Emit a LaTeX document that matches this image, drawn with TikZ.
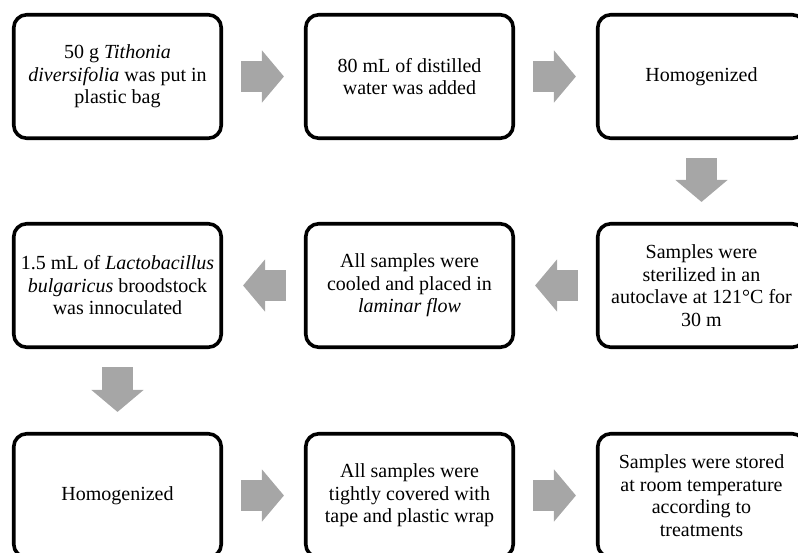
\documentclass[tikz,border=0pt]{standalone}
\usepackage{fontspec}
\setmainfont{Liberation Serif}
\usetikzlibrary{arrows.meta}
\definecolor{arrowgray}{RGB}{166,166,166}

\begin{document}
\begin{tikzpicture}[x = 1pt, y = -1pt, line join = round,
  stepbox/.style = {draw, line width = 3.6pt, rounded corners = 13pt,
    minimum width = 207.5pt, minimum height = 123.5pt, align = center,
    font = \fontsize{20}{22.5}\selectfont},
  flow/.style = {draw = arrowgray, line width = 31pt,
    -{Triangle[length = 22pt, width = 51pt]},
    shorten < = 18pt, shorten > = 20pt}]
  \useasboundingbox (0, 0) rectangle (798, 552);

  % first row
  \node[stepbox] (weigh) at (117.5, 76.5)
    {50 g \textit{Tithonia}\\ \textit{diversifolia} was put in\\ plastic bag};
  \node[stepbox] (water) at (409.5, 76.5)
    {80 mL of distilled\\ water was added};
  \node[stepbox] (homogA) at (701.5, 76.5) {Homogenized};

  % second row
  \node[stepbox] (steril) at (701.5, 285.5)
    {Samples were\\ sterilized in an\\ autoclave at 121\textdegree C for\\ 30 m};
  \node[stepbox] (cool) at (409.5, 285.5)
    {All samples were\\ cooled and placed in\\ \textit{laminar flow}};
  \node[stepbox] (inocul) at (117.5, 285.5)
    {1.5 mL of \textit{Lactobacillus}\\ \textit{bulgaricus} broodstock\\ was innoculated};

  % third row
  \node[stepbox] (homogB) at (117.5, 495.5) {Homogenized};
  \node[stepbox] (cover) at (409.5, 495.5)
    {All samples were\\ tightly covered with\\ tape and plastic wrap};
  \node[stepbox] (store) at (701.5, 495.5)
    {Samples were stored\\ at room temperature\\ according to\\ treatments};

  \draw[flow] (weigh) -- (water);
  \draw[flow] (water) -- (homogA);
  \draw[flow] (homogA) -- (steril);
  \draw[flow] (steril) -- (cool);
  \draw[flow] (cool) -- (inocul);
  \draw[flow] (inocul) -- (homogB);
  \draw[flow] (homogB) -- (cover);
  \draw[flow] (cover) -- (store);
\end{tikzpicture}
\end{document}
